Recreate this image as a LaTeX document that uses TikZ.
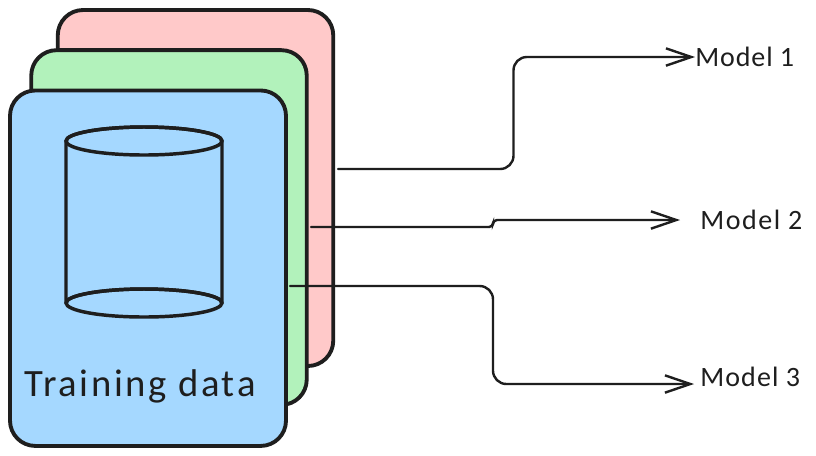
\documentclass[tikz,border=0pt]{standalone}
\usepackage{fontspec}
\setmainfont{Carlito}
\usetikzlibrary{arrows.meta,shapes.geometric}
\definecolor{inkc}{HTML}{1E1E1E}
\definecolor{pinkc}{HTML}{FFC9C9}
\definecolor{greenc}{HTML}{B2F2BB}
\definecolor{bluec}{HTML}{A5D8FF}
\tikzset{
  x=0.75pt,y=-0.75pt,
  card/.style={draw=inkc,line width=2.9pt,rounded corners=19pt,inner sep=0pt,
    minimum width=#1*0.75pt},
  cyl/.style={draw=inkc,line width=2.6pt,fill=bluec,line join=round},
  conn/.style={draw=inkc,line width=1.8pt,rounded corners=10pt,line cap=round,
    -{Straight Barb[length=19pt,width=13pt,line width=1.8pt]}},
  modellabel/.style={anchor=west,inner sep=0pt,text=inkc,font=\fontsize{21pt}{24pt}\selectfont},
  datalabel/.style={inner sep=0pt,text=inkc,font=\fontsize{29pt}{32pt}\selectfont},
}
\begin{document}
\begin{tikzpicture}
\useasboundingbox (0,0) rectangle (816,455);
\fill[white] (0,0) rectangle (816,455);
% stacked cards
\node[card=275.5,minimum height=267pt,fill=pinkc] (pink) at (195.5,188) {};
\node[card=275.5,minimum height=266pt,fill=greenc] (green) at (169,227.5) {};
\node[card=276,minimum height=266.6pt,fill=bluec] (blue) at (148,268.2) {};
% cylinder
\path[cyl] (66,141) -- (66,303) arc[start angle=180,end angle=360,x radius=78,y radius=14]
  -- (222,141) arc[start angle=0,end angle=180,x radius=78,y radius=-14] -- cycle;
\draw[cyl,fill=none] (144,303) ellipse[x radius=78,y radius=14];
\draw[cyl,fill=none] (144,141) ellipse[x radius=78,y radius=14];
% labels
\node[datalabel] (train) at (140,386) {\addfontfeature{LetterSpace=6.8}Training data};
\node[modellabel] (m1) at (695,57) {\addfontfeature{LetterSpace=3.3}Model 1};
\node[modellabel] (m2) at (700,220) {\addfontfeature{LetterSpace=5.6}Model 2};
\node[modellabel] (m3) at (700,377) {\addfontfeature{LetterSpace=4}Model 3};
% connector ends
\coordinate (s1) at (338,169);
\coordinate (s2) at (311,227);
\coordinate (s3) at (290,286);
\coordinate (e2) at (680,220);
\coordinate (e3) at (694,384);
\draw[conn] (s1) -- (513.5,169) -- (513.5,57) -- (m1.west);
\draw[conn,rounded corners=3pt] (s2) -- (493,227) -- (493,220) -- (e2);
\draw[conn] (s3) -- (493,286) -- (493,384) -- (e3);
\end{tikzpicture}
\end{document}
